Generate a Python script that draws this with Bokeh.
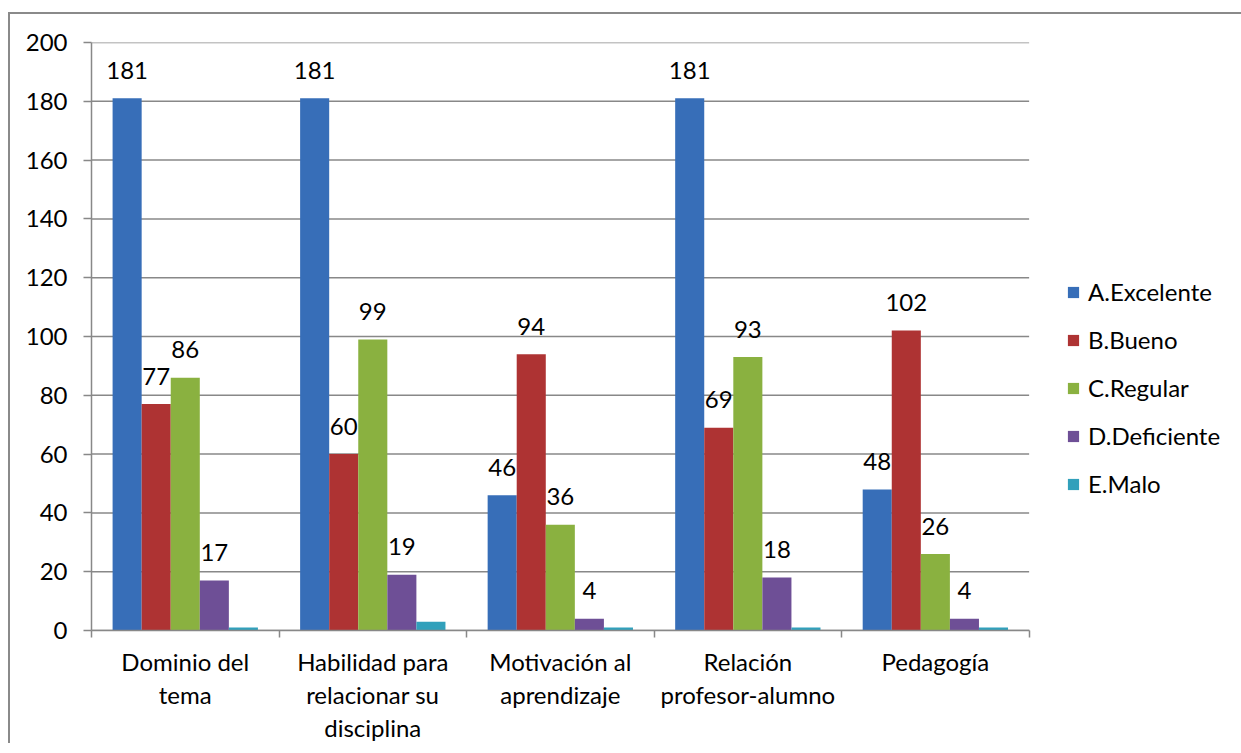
from bokeh.plotting import figure
from bokeh.models import ColumnDataSource, FixedTicker, Legend, LegendItem
from bokeh.core.properties import value
from bokeh.embed import file_html
from bokeh.resources import INLINE

# ---- data ----
categories = ["Dominio del\ntema", "Habilidad para\nrelacionar su\ndisciplina",
              "Motivación al\naprendizaje", "Relación\nprofesor-alumno", "Pedagogía"]
series_names = ["A.Excelente", "B.Bueno", "C.Regular", "D.Deficiente", "E.Malo"]
excelente = [181, 181, 46, 181, 48]
bueno = [77, 60, 94, 69, 102]
regular = [86, 99, 36, 93, 26]
deficiente = [17, 19, 4, 18, 4]
malo = [1, 3, 1, 1, 1]
y_ticks = [0, 20, 40, 60, 80, 100, 120, 140, 160, 180, 200]

series_values = [excelente, bueno, regular, deficiente, malo]
show_labels = [True, True, True, True, False]
colors = ["#376EB8", "#AE3333", "#8AB140", "#6E4F96", "#31A0BB"]

FONT = "Lato"
FS = "24px"
GRID = "#888888"

W, H = 1233, 731
LEFT, TOP, BOTTOM = 81, 28, 114
PLOT_W = 936                      # width of the category area in pixels
ncat = len(categories)
x_end = ncat * (W - 2 - LEFT) / PLOT_W   # frame extends right to host the legend

p = figure(width=W, height=H, x_range=(0, x_end), y_range=(0, 200),
           output_backend="svg", toolbar_location=None,
           min_border_left=LEFT, min_border_top=TOP, min_border_bottom=BOTTOM,
           min_border_right=0)
p.styles = {"border-left": "2px solid #8A8A8A", "border-top": "2px solid #8A8A8A",
            "margin-top": "12px", "margin-left": "8px"}
p.outline_line_color = None
p.background_fill_color = "white"
p.border_fill_color = "white"

# axes
p.xaxis.ticker = FixedTicker(ticks=[i + 0.5 for i in range(ncat)],
                             minor_ticks=list(range(ncat + 1)))
p.xaxis.bounds = (0, ncat)
p.xaxis.major_label_overrides = {i + 0.5: c for i, c in enumerate(categories)}
p.xaxis.major_tick_line_color = None
p.xaxis.major_tick_in = 0
p.xaxis.major_tick_out = 0
p.xaxis.minor_tick_line_color = GRID
p.xaxis.minor_tick_line_width = 1.5
p.xaxis.minor_tick_in = 0
p.xaxis.minor_tick_out = 7
p.xaxis.axis_line_color = GRID
p.xaxis.axis_line_width = 1.5
p.xaxis.major_label_standoff = 9
p.xaxis.major_label_text_font = FONT
p.xaxis.major_label_text_font_size = FS
p.xaxis.major_label_text_color = "black"
p.xaxis.major_label_text_line_height = 1.15
p.xaxis.major_label_orientation = "horizontal"

p.yaxis.ticker = FixedTicker(ticks=y_ticks, minor_ticks=[])
p.yaxis.major_tick_line_color = GRID
p.yaxis.major_tick_line_width = 1.5
p.yaxis.major_tick_in = 0
p.yaxis.major_tick_out = 8
p.yaxis.minor_tick_line_color = None
p.yaxis.axis_line_color = GRID
p.yaxis.axis_line_width = 1.5
p.yaxis.major_label_standoff = 16
p.yaxis.major_label_text_font = FONT
p.yaxis.major_label_text_font_size = FS
p.yaxis.major_label_text_color = "black"

p.xgrid.grid_line_color = None
p.ygrid.grid_line_color = None

# horizontal gridlines limited to the category area
p.segment(x0=[0] * len(y_ticks), x1=[ncat] * len(y_ticks), y0=y_ticks, y1=y_ticks,
          line_color=GRID, line_width=1.5)

# bars
n = len(series_names)
bw = 0.155
items = []
for s, (name, vals, col, lab) in enumerate(zip(series_names, series_values, colors, show_labels)):
    off = (s - (n - 1) / 2) * bw
    src = ColumnDataSource(dict(x=[i + 0.5 + off for i in range(len(vals))],
                                top=vals, label=[str(v) for v in vals]))
    r = p.vbar(x="x", top="top", width=bw, bottom=0, source=src,
               fill_color=col, line_color=None)
    items.append(LegendItem(label=name, renderers=[r]))
    if lab:
        p.text(x="x", y="top", text="label", source=src, text_align="center",
               text_baseline="middle", y_offset=-28, text_font=value(FONT),
               text_font_size=FS, text_color="black")

legend = Legend(items=items, location=(PLOT_W + 39, 132), orientation="vertical")
legend.glyph_width = 14
legend.glyph_height = 14
legend.label_text_font = FONT
legend.label_text_font_size = FS
legend.label_text_color = "black"
legend.label_standoff = 8
legend.spacing = 19
legend.padding = 10
legend.margin = 0
legend.border_line_color = None
legend.background_fill_alpha = 0
p.add_layout(legend, "center")

open("out.html", "w").write(file_html(p, INLINE))
